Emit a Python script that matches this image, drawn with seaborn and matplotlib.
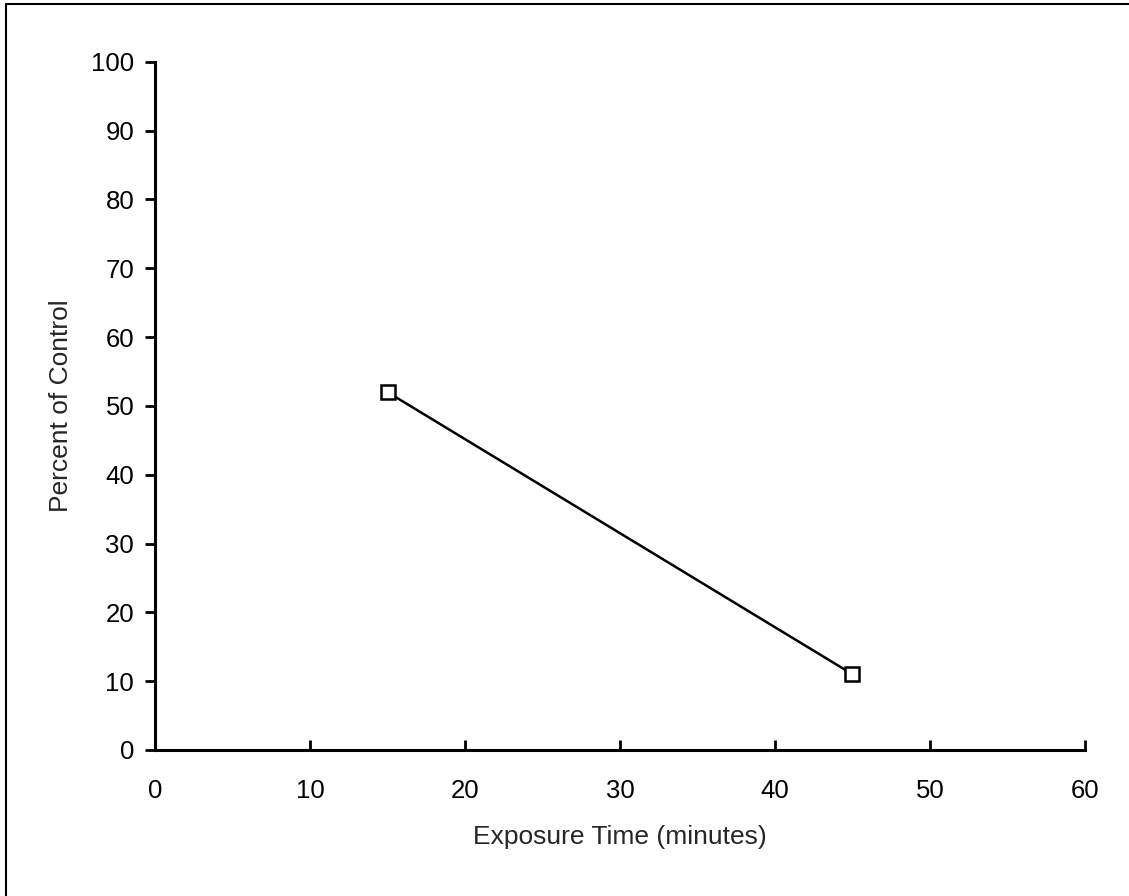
import numpy as np
import pandas as pd
import matplotlib
matplotlib.use('Agg')
import matplotlib.pyplot as plt
import seaborn as sns
from matplotlib.lines import Line2D

# data
exposure_min = [15, 45]
percent_control = [52, 11]

x_ticks = [0, 10, 20, 30, 40, 50, 60]
y_ticks = [0, 10, 20, 30, 40, 50, 60, 70, 80, 90, 100]

df = pd.DataFrame({'Exposure': exposure_min, 'Percent': percent_control})

sns.set_theme(style='white')
plt.rcParams['font.family'] = ['Liberation Sans', 'DejaVu Sans']

fig = plt.figure(figsize=(11.29, 8.96), dpi=100)
ax = fig.add_axes([0.1373, 0.163, 0.961 - 0.1373, 0.931 - 0.163])

sns.lineplot(data=df, x='Exposure', y='Percent', ax=ax, color='black', linewidth=1.8,
             marker='s', markersize=10, markerfacecolor='white',
             markeredgecolor='black', markeredgewidth=1.8)

ax.set_xlim(0, 60)
ax.set_ylim(0, 100)
ax.set_xticks(x_ticks)
ax.set_yticks(y_ticks)
ax.tick_params(axis='x', direction='in', length=7, width=2, pad=21, labelsize=18.5, colors='black')
ax.tick_params(axis='y', direction='out', length=7, width=2, pad=8, labelsize=18.5, colors='black')
ax.tick_params(bottom=True, left=True)

for side in ['top', 'right']:
    ax.spines[side].set_visible(False)
for side in ['left', 'bottom']:
    ax.spines[side].set_color('black')
    ax.spines[side].set_linewidth(2.2)

ax.set_xlabel('Exposure Time (minutes)', fontsize=19, labelpad=16)
ax.set_ylabel('Percent of Control', fontsize=19, labelpad=13)

# scan frame: left and top edges of the page
fig.lines.append(Line2D([0.005, 0.005], [0.0, 0.995], transform=fig.transFigure,
                        color='black', linewidth=1.5))
fig.lines.append(Line2D([0.005, 1.0], [0.995, 0.995], transform=fig.transFigure,
                        color='black', linewidth=1.5))

fig.savefig('out.png', dpi=100)
